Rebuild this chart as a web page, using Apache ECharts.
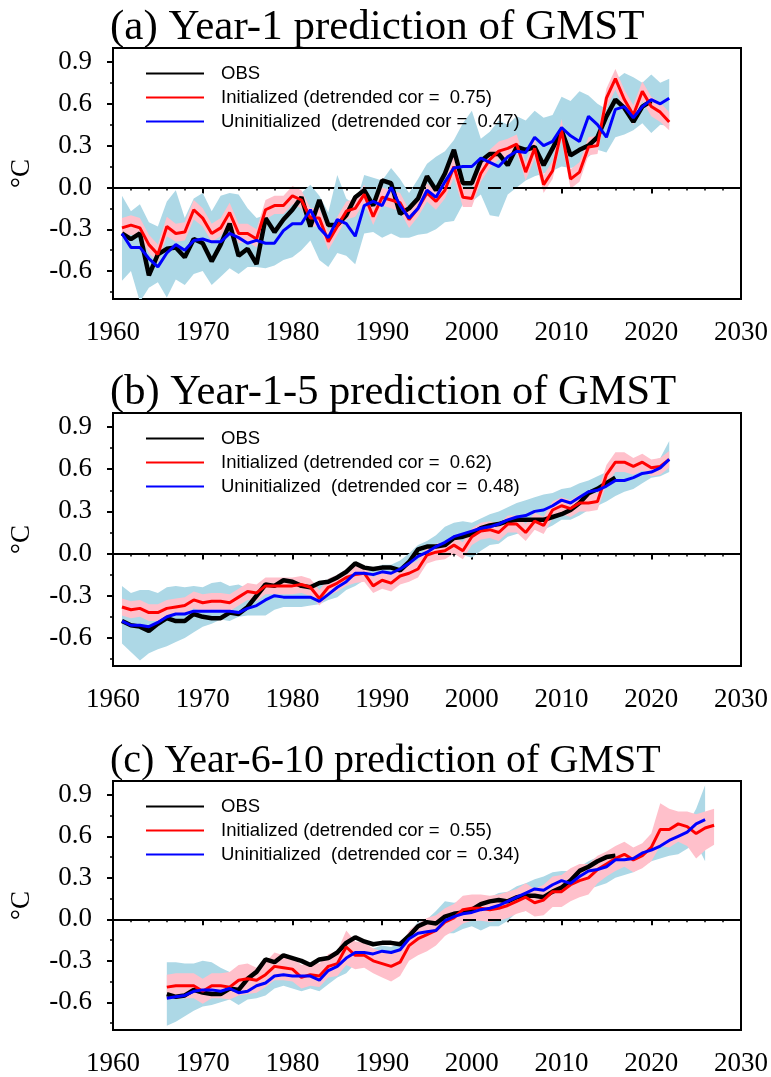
<!doctype html>
<html lang="en">
  <head>
    <meta charset="UTF-8" />
    <title>GMST prediction</title>
    <script src="https://cdn.jsdelivr.net/npm/echarts/dist/echarts.min.js"></script>
  </head>
  <body>
    <div class="main" style="width: 771px; height: 1077px"></div>
  </body>
  <script>
    // ---- data ----
    // panel (a) Year-1 : lines start 1961
    const obsA = [-0.33,-0.37,-0.33,-0.63,-0.48,-0.44,-0.43,-0.50,-0.37,-0.40,
      -0.53,-0.41,-0.26,-0.49,-0.44,-0.55,-0.22,-0.32,-0.23,-0.16,
      -0.07,-0.28,-0.09,-0.27,-0.27,-0.20,-0.07,-0.02,-0.13,0.05,
      0.03,-0.19,-0.15,-0.08,0.08,-0.02,0.10,0.27,0.03,0.03,
      0.19,0.24,0.24,0.16,0.29,0.27,0.29,0.16,0.28,0.41,
      0.23,0.27,0.30,0.36,0.51,0.63,0.57,0.47,0.58,0.62];
    const initA = [-0.29,-0.27,-0.29,-0.41,-0.48,-0.28,-0.33,-0.32,-0.16,-0.22,
      -0.33,-0.29,-0.18,-0.33,-0.33,-0.37,-0.16,-0.13,-0.13,-0.06,
      -0.09,-0.22,-0.22,-0.39,-0.28,-0.17,-0.15,-0.05,-0.21,-0.07,
      -0.09,-0.11,-0.23,-0.15,-0.04,-0.10,-0.02,0.15,-0.07,-0.08,
      0.10,0.20,0.26,0.28,0.31,0.11,0.28,0.02,0.12,0.41,
      0.06,0.11,0.29,0.30,0.64,0.78,0.63,0.52,0.69,0.58,0.54,0.47];
    const uninitA = [-0.33,-0.43,-0.43,-0.51,-0.57,-0.47,-0.41,-0.45,-0.38,-0.37,
      -0.39,-0.39,-0.33,-0.36,-0.40,-0.38,-0.40,-0.40,-0.31,-0.26,
      -0.26,-0.16,-0.29,-0.36,-0.23,-0.26,-0.35,-0.13,-0.10,-0.13,
      0.00,-0.13,-0.22,-0.15,-0.02,-0.07,0.04,0.14,0.15,0.15,
      0.21,0.18,0.15,0.22,0.26,0.25,0.36,0.30,0.33,0.43,
      0.37,0.33,0.51,0.45,0.36,0.56,0.58,0.50,0.58,0.63,0.60,0.64];
    const initLoA = [-0.36,-0.34,-0.35,-0.47,-0.54,-0.35,-0.39,-0.38,-0.23,-0.28,
      -0.39,-0.35,-0.25,-0.40,-0.39,-0.43,-0.23,-0.19,-0.19,-0.12,
      -0.15,-0.28,-0.28,-0.45,-0.34,-0.23,-0.21,-0.11,-0.27,-0.13,
      -0.15,-0.17,-0.29,-0.21,-0.10,-0.16,-0.08,0.07,-0.14,-0.14,
      0.04,0.14,0.20,0.22,0.25,0.05,0.21,-0.04,0.06,0.34,
      -0.01,0.04,0.23,0.24,0.57,0.70,0.56,0.45,0.62,0.51,0.47,0.41];
    const initHiA = [-0.22,-0.20,-0.22,-0.34,-0.41,-0.21,-0.26,-0.25,-0.09,-0.15,
      -0.26,-0.22,-0.11,-0.26,-0.26,-0.30,-0.09,-0.06,-0.06,0.01,
      -0.02,-0.15,-0.15,-0.32,-0.21,-0.10,-0.08,0.02,-0.14,0.00,
      -0.02,-0.04,-0.16,-0.08,0.03,-0.03,0.05,0.23,0.00,-0.01,
      0.17,0.27,0.33,0.35,0.38,0.18,0.35,0.09,0.19,0.49,
      0.13,0.18,0.36,0.37,0.71,0.85,0.70,0.59,0.76,0.65,0.61,0.54];
    const uninitLoA = [-0.67,-0.60,-0.82,-0.72,-0.68,-0.79,-0.66,-0.70,-0.62,-0.60,
      -0.70,-0.64,-0.58,-0.62,-0.57,-0.57,-0.58,-0.56,-0.52,-0.50,
      -0.45,-0.38,-0.52,-0.57,-0.47,-0.49,-0.55,-0.33,-0.32,-0.36,
      -0.33,-0.36,-0.36,-0.34,-0.33,-0.30,-0.25,-0.24,-0.12,-0.10,
      -0.05,-0.20,-0.21,-0.05,0.00,0.05,0.08,0.10,0.12,0.15,
      0.14,0.15,0.22,0.27,0.25,0.36,0.38,0.41,0.46,0.39,0.45,0.44];
    const uninitHiA = [-0.06,-0.17,-0.12,-0.25,-0.28,-0.10,-0.02,-0.22,-0.08,-0.04,
      -0.17,-0.06,-0.04,-0.05,-0.15,-0.22,-0.20,-0.14,-0.09,-0.05,
      -0.04,0.02,-0.06,-0.18,0.09,-0.08,-0.13,0.09,0.07,0.05,
      0.14,0.06,-0.04,0.06,0.17,0.22,0.26,0.34,0.46,0.55,
      0.35,0.40,0.48,0.45,0.51,0.48,0.55,0.50,0.52,0.65,
      0.62,0.69,0.66,0.60,0.56,0.77,0.82,0.79,0.75,0.81,0.75,0.78];

    // panel (b) Year-1-5 : lines start 1961
    const obsB = [-0.48,-0.51,-0.52,-0.55,-0.50,-0.46,-0.48,-0.48,-0.43,-0.45,
      -0.46,-0.46,-0.42,-0.43,-0.38,-0.30,-0.22,-0.23,-0.19,-0.20,
      -0.23,-0.24,-0.21,-0.20,-0.17,-0.13,-0.07,-0.10,-0.11,-0.10,
      -0.10,-0.12,-0.06,0.03,0.05,0.05,0.06,0.11,0.12,0.14,
      0.18,0.20,0.21,0.23,0.24,0.24,0.24,0.24,0.26,0.28,
      0.31,0.36,0.43,0.46,0.50,0.54];
    const initB = [-0.38,-0.40,-0.39,-0.42,-0.42,-0.39,-0.38,-0.37,-0.33,-0.35,
      -0.34,-0.34,-0.35,-0.31,-0.27,-0.28,-0.23,-0.23,-0.23,-0.23,
      -0.22,-0.24,-0.32,-0.24,-0.21,-0.17,-0.15,-0.14,-0.23,-0.19,
      -0.21,-0.16,-0.14,-0.11,-0.01,0.01,0.02,0.06,0.02,0.12,
      0.16,0.17,0.15,0.21,0.21,0.15,0.23,0.20,0.31,0.34,
      0.32,0.36,0.36,0.37,0.56,0.65,0.65,0.62,0.65,0.61,0.62,0.67];
    const uninitB = [-0.48,-0.51,-0.51,-0.52,-0.49,-0.45,-0.43,-0.43,-0.41,-0.41,
      -0.41,-0.41,-0.41,-0.42,-0.39,-0.37,-0.33,-0.30,-0.31,-0.31,
      -0.31,-0.31,-0.34,-0.29,-0.24,-0.20,-0.14,-0.14,-0.15,-0.13,
      -0.14,-0.11,-0.07,-0.02,0.01,0.05,0.08,0.12,0.14,0.16,
      0.18,0.19,0.21,0.24,0.26,0.27,0.30,0.31,0.34,0.38,
      0.36,0.40,0.44,0.45,0.48,0.52,0.52,0.54,0.57,0.58,0.61,0.67];
    const initLoB = [-0.44,-0.46,-0.45,-0.48,-0.48,-0.45,-0.44,-0.43,-0.39,-0.41,
      -0.40,-0.40,-0.41,-0.37,-0.33,-0.34,-0.29,-0.29,-0.29,-0.29,
      -0.28,-0.30,-0.37,-0.30,-0.27,-0.23,-0.21,-0.20,-0.28,-0.25,
      -0.27,-0.22,-0.20,-0.17,-0.07,-0.05,-0.04,0.00,-0.04,0.06,
      0.10,0.11,0.09,0.15,0.15,0.09,0.17,0.14,0.25,0.28,
      0.26,0.30,0.30,0.31,0.49,0.58,0.58,0.56,0.59,0.55,0.56,0.61];
    const initHiB = [-0.32,-0.34,-0.33,-0.36,-0.36,-0.33,-0.32,-0.31,-0.27,-0.29,
      -0.28,-0.28,-0.29,-0.25,-0.21,-0.22,-0.17,-0.17,-0.17,-0.17,
      -0.16,-0.18,-0.26,-0.18,-0.15,-0.11,-0.09,-0.08,-0.17,-0.13,
      -0.15,-0.10,-0.08,-0.05,0.05,0.07,0.08,0.12,0.08,0.18,
      0.22,0.23,0.21,0.27,0.27,0.21,0.29,0.26,0.37,0.40,
      0.38,0.42,0.42,0.43,0.63,0.72,0.72,0.68,0.71,0.67,0.68,0.73];
    const uninitLoB = [-0.64,-0.70,-0.76,-0.71,-0.68,-0.66,-0.63,-0.60,-0.56,-0.52,
      -0.50,-0.47,-0.48,-0.45,-0.44,-0.44,-0.44,-0.40,-0.38,-0.38,
      -0.38,-0.37,-0.36,-0.33,-0.31,-0.26,-0.23,-0.19,-0.20,-0.18,
      -0.17,-0.15,-0.10,-0.05,-0.04,-0.02,0.00,0.02,-0.01,-0.03,
      0.02,0.06,0.07,0.12,0.14,0.16,0.17,0.17,0.20,0.24,
      0.24,0.27,0.31,0.34,0.37,0.41,0.44,0.46,0.50,0.54,0.55,0.58];
    const uninitHiB = [-0.23,-0.28,-0.26,-0.26,-0.28,-0.24,-0.23,-0.24,-0.23,-0.24,
      -0.21,-0.20,-0.23,-0.22,-0.25,-0.24,-0.22,-0.21,-0.20,-0.21,
      -0.18,-0.20,-0.22,-0.18,-0.15,-0.11,-0.08,-0.09,-0.10,-0.08,
      -0.08,-0.05,0.00,0.06,0.09,0.13,0.19,0.22,0.23,0.22,
      0.25,0.28,0.30,0.33,0.36,0.38,0.40,0.42,0.43,0.46,
      0.47,0.50,0.52,0.55,0.58,0.60,0.60,0.63,0.64,0.66,0.68,0.80];

    // panel (c) Year-6-10 : lines start 1966
    const obsC = [-0.54,-0.56,-0.55,-0.51,-0.53,
      -0.54,-0.54,-0.50,-0.51,-0.43,-0.38,-0.29,-0.31,-0.26,-0.28,
      -0.30,-0.33,-0.29,-0.28,-0.24,-0.17,-0.13,-0.16,-0.18,-0.17,
      -0.17,-0.18,-0.12,-0.05,-0.02,-0.03,0.02,0.04,0.05,0.07,
      0.11,0.13,0.14,0.13,0.16,0.17,0.17,0.16,0.20,0.23,
      0.28,0.35,0.38,0.42,0.45,0.46];
    const initC = [-0.49,-0.48,-0.48,-0.48,-0.52,
      -0.48,-0.48,-0.49,-0.44,-0.43,-0.44,-0.40,-0.34,-0.35,-0.36,
      -0.42,-0.40,-0.41,-0.34,-0.32,-0.20,-0.26,-0.26,-0.30,-0.32,
      -0.34,-0.31,-0.19,-0.14,-0.11,-0.08,-0.02,0.01,0.07,0.08,
      0.08,0.07,0.08,0.10,0.13,0.16,0.12,0.14,0.20,0.20,
      0.25,0.28,0.30,0.36,0.40,0.44,0.47,0.43,0.46,0.52,
      0.65,0.65,0.69,0.67,0.62,0.66,0.68];
    const uninitC = [-0.57,-0.56,-0.55,-0.52,-0.51,
      -0.51,-0.52,-0.50,-0.53,-0.52,-0.48,-0.46,-0.41,-0.40,-0.41,
      -0.41,-0.41,-0.44,-0.37,-0.34,-0.28,-0.24,-0.24,-0.25,-0.23,
      -0.24,-0.22,-0.14,-0.10,-0.09,-0.08,-0.01,0.02,0.04,0.05,
      0.07,0.08,0.10,0.13,0.16,0.19,0.22,0.21,0.25,0.28,
      0.26,0.31,0.35,0.36,0.38,0.43,0.43,0.44,0.48,0.50,
      0.53,0.57,0.60,0.63,0.69,0.72];
    const initLoC = [-0.58,-0.57,-0.57,-0.57,-0.61,
      -0.57,-0.57,-0.58,-0.55,-0.54,-0.53,-0.49,-0.44,-0.44,-0.45,
      -0.50,-0.48,-0.49,-0.42,-0.41,-0.33,-0.36,-0.35,-0.39,-0.42,
      -0.45,-0.41,-0.30,-0.26,-0.23,-0.19,-0.12,-0.08,-0.03,-0.01,
      -0.01,-0.02,-0.01,0.01,0.04,0.06,0.02,0.03,0.09,0.09,
      0.13,0.16,0.18,0.26,0.31,0.35,0.38,0.34,0.37,0.42,
      0.53,0.52,0.56,0.53,0.44,0.50,0.54];
    const initHiC = [-0.40,-0.39,-0.39,-0.39,-0.43,
      -0.39,-0.39,-0.38,-0.33,-0.32,-0.35,-0.31,-0.24,-0.26,-0.27,
      -0.33,-0.31,-0.32,-0.25,-0.23,-0.08,-0.16,-0.17,-0.21,-0.23,
      -0.24,-0.21,-0.08,-0.03,0.01,0.03,0.08,0.11,0.17,0.18,
      0.18,0.17,0.18,0.20,0.22,0.26,0.22,0.25,0.31,0.32,
      0.37,0.40,0.40,0.46,0.49,0.53,0.56,0.52,0.55,0.62,
      0.84,0.80,0.78,0.78,0.76,0.78,0.80];
    const uninitLoC = [-0.77,-0.74,-0.70,-0.66,-0.63,
      -0.62,-0.60,-0.58,-0.62,-0.58,-0.57,-0.55,-0.50,-0.48,-0.50,
      -0.52,-0.50,-0.52,-0.47,-0.42,-0.39,-0.32,-0.32,-0.33,-0.30,
      -0.32,-0.29,-0.22,-0.18,-0.16,-0.13,-0.10,-0.10,-0.07,-0.05,
      -0.08,-0.05,-0.05,-0.01,0.05,0.06,0.10,0.10,0.14,0.17,
      0.17,0.20,0.22,0.24,0.26,0.30,0.32,0.34,0.38,0.42,
      0.44,0.46,0.47,0.51,0.55,0.42];
    const uninitHiC = [-0.31,-0.31,-0.32,-0.32,-0.30,
      -0.31,-0.35,-0.38,-0.43,-0.43,-0.42,-0.38,-0.35,-0.35,-0.37,
      -0.36,-0.36,-0.38,-0.33,-0.30,-0.24,-0.20,-0.20,-0.21,-0.19,
      -0.20,-0.17,-0.09,-0.02,0.00,0.06,0.13,0.12,0.13,0.12,
      0.15,0.16,0.19,0.20,0.24,0.26,0.29,0.31,0.34,0.35,
      0.35,0.38,0.42,0.45,0.46,0.47,0.48,0.49,0.52,0.55,
      0.56,0.57,0.62,0.68,0.80,0.97];

    const yTicks = [-0.6, -0.3, 0, 0.3, 0.6, 0.9];
    const yMinor = [-0.75, -0.45, -0.15, 0.15, 0.45, 0.75];

    const panels = [
      { title: "(a) Year-1 prediction of GMST", start: 1961, obs: obsA, init: initA, uninit: uninitA,
        initLo: initLoA, initHi: initHiA, uninitLo: uninitLoA, uninitHi: uninitHiA, corI: "0.75", corU: "0.47" },
      { title: "(b) Year-1-5 prediction of GMST", start: 1961, obs: obsB, init: initB, uninit: uninitB,
        initLo: initLoB, initHi: initHiB, uninitLo: uninitLoB, uninitHi: uninitHiB, corI: "0.62", corU: "0.48" },
      { title: "(c) Year-6-10 prediction of GMST", start: 1966, obs: obsC, init: initC, uninit: uninitC,
        initLo: initLoC, initHi: initHiC, uninitLo: uninitLoC, uninitHi: uninitHiC, corI: "0.55", corU: "0.34" },
    ];

    const serif = "'Liberation Serif', 'Times New Roman', serif";
    const sans = "'Liberation Sans', Arial, sans-serif";
    const tops = [48, 413, 781];
    const heights = [251, 253, 254];
    const titleSizes = [43, 42.5, 40];

    const pairs = (start, vals) => vals.map((v, k) => [start + k, v]);

    // spread band as one polygon, points placed through the axes (api.coord)
    const bandSeries = (i, yi, start, lo, hi, color) => ({
      type: "custom",
      xAxisIndex: i,
      yAxisIndex: yi,
      silent: true,
      clip: true,
      z: 1,
      data: [[start, lo[0]]],
      renderItem: (params, api) => {
        const pts = [];
        lo.forEach((v, k) => pts.push(api.coord([start + k, v])));
        for (let k = hi.length - 1; k >= 0; k--) pts.push(api.coord([start + k, hi[k]]));
        return { type: "polygon", shape: { points: pts }, style: { fill: color, stroke: null } };
      },
    });

    const myChart = echarts.init(document.querySelector(".main"));

    const option = {
      animation: false,
      backgroundColor: "#fff",
      title: [],
      legend: [],
      grid: [],
      xAxis: [],
      yAxis: [],
      series: [],
    };

    panels.forEach((p, i) => {
      const nameI = "Initialized (detrended cor =  " + p.corI + ")";
      const nameU = "Uninitialized  (detrended cor =  " + p.corU + ")";

      option.title.push({
        text: p.title,
        left: 110,
        top: tops[i] - 42 + (43 - titleSizes[i]) * 0.9,
        padding: 0,
        textStyle: { fontFamily: serif, fontSize: titleSizes[i], fontWeight: "normal", color: "#000" },
      });

      option.legend.push({
        orient: "vertical",
        left: 145,
        top: tops[i] + 16,
        padding: 0,
        itemWidth: 58,
        itemHeight: 14,
        itemGap: 5,
        selectedMode: false,
        itemStyle: { opacity: 0 },
        textStyle: { fontFamily: sans, fontSize: 18.5, lineHeight: 19, color: "#000", padding: [0, 0, 0, 12] },
        data: ["OBS", nameI, nameU],
      });

      option.grid.push({
        left: 113,
        top: tops[i],
        width: 630,
        height: heights[i],
        show: true,
        borderColor: "#000",
        borderWidth: 2,
      });

      option.xAxis.push({
        type: "value",
        gridIndex: i,
        min: 1960,
        max: 2030,
        interval: 10,
        axisLine: { lineStyle: { color: "#000", width: 2 } },
        axisTick: { length: 6, lineStyle: { color: "#000", width: 2 } },
        minorTick: { show: true, splitNumber: 5, length: 3, lineStyle: { color: "#000", width: 1.5 } },
        axisLabel: { fontFamily: serif, fontSize: 27, color: "#000", margin: 20, formatter: (v) => String(v) },
        splitLine: { show: false },
      });

      // main y axis with the labelled ticks
      option.yAxis.push({
        type: "value",
        gridIndex: i,
        position: "left",
        min: -0.8,
        max: 1.0,
        name: "°C",
        nameLocation: "middle",
        nameGap: 78,
        nameRotate: 90,
        nameTextStyle: { fontFamily: serif, fontSize: 27, color: "#000" },
        axisLine: { lineStyle: { color: "#000", width: 2 } },
        axisTick: { customValues: yTicks, length: 6, lineStyle: { color: "#000", width: 2 } },
        axisLabel: {
          customValues: yTicks,
          fontFamily: serif,
          fontSize: 27,
          color: "#000",
          margin: 21,
          formatter: (v) => v.toFixed(1),
        },
        splitLine: { show: false },
      });
      // second y axis only for the short minor ticks
      option.yAxis.push({
        type: "value",
        gridIndex: i,
        position: "left",
        min: -0.8,
        max: 1.0,
        axisLine: { show: false },
        axisTick: { customValues: yMinor, length: 3, lineStyle: { color: "#000", width: 1.5 } },
        axisLabel: { show: false },
        splitLine: { show: false },
      });

      const yi = i * 2;
      option.series.push(bandSeries(i, yi, p.start, p.uninitLo, p.uninitHi, "#add8e6"));
      option.series.push(bandSeries(i, yi, p.start, p.initLo, p.initHi, "#ffc0cb"));

      option.series.push({
        name: "OBS",
        type: "line",
        xAxisIndex: i,
        yAxisIndex: yi,
        symbol: "none",
        z: 10,
        lineStyle: { color: "#000", width: 4.5 },
        itemStyle: { color: "#000" },
        data: pairs(p.start, p.obs),
        markLine: {
          silent: true,
          symbol: "none",
          z: 2,
          label: { show: false },
          lineStyle: { color: "#000", width: 2, type: [13, 12] },
          data: [{ yAxis: 0 }],
        },
      });
      option.series.push({
        name: nameI,
        type: "line",
        xAxisIndex: i,
        yAxisIndex: yi,
        symbol: "none",
        z: 10,
        lineStyle: { color: "#ff0000", width: 3 },
        itemStyle: { color: "#ff0000" },
        data: pairs(p.start, p.init),
      });
      option.series.push({
        name: nameU,
        type: "line",
        xAxisIndex: i,
        yAxisIndex: yi,
        symbol: "none",
        z: 10,
        lineStyle: { color: "#0000ff", width: 3 },
        itemStyle: { color: "#0000ff" },
        data: pairs(p.start, p.uninit),
      });
    });

    myChart.setOption(option);
  </script>
  <style>
    body {
      padding: 0;
      margin: 0;
      background: #fff;
    }
  </style>
</html>
